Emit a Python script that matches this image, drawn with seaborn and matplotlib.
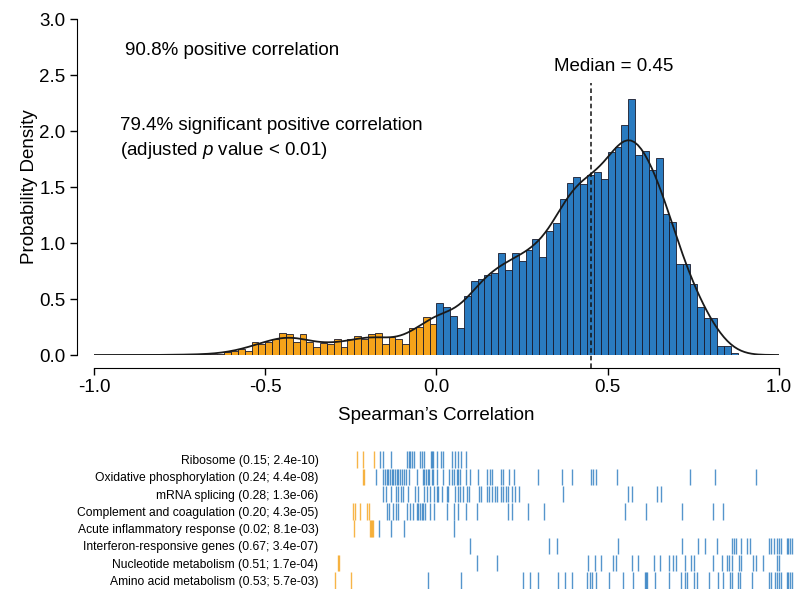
import numpy as np
import pandas as pd
import seaborn as sns
import matplotlib.pyplot as plt

# histogram of Spearman correlations, bin width 0.02, first bin starts at -0.78
neg_density = [0.003, 0.003, 0.003, 0.004, 0.005, 0.008, 0.01, 0.01, 0.024, 0.04,
               0.05, 0.04, 0.12, 0.10, 0.12, 0.14, 0.20, 0.19, 0.12, 0.19,
               0.12, 0.07, 0.11, 0.10, 0.14, 0.07, 0.14, 0.17, 0.14, 0.19,
               0.20, 0.10, 0.16, 0.14, 0.10, 0.24, 0.25, 0.34, 0.28]
pos_density = [0.46, 0.43, 0.35, 0.24, 0.53, 0.66, 0.68, 0.71, 0.73, 0.91,
               0.76, 0.91, 0.84, 0.94, 1.04, 0.875, 1.11, 1.18, 1.39, 1.54,
               1.59, 1.53, 1.61, 1.63, 1.57, 1.81, 1.86, 2.05, 2.29, 1.79,
               1.82, 1.65, 1.76, 1.26, 1.19, 0.81, 0.81, 0.63, 0.43, 0.33,
               0.33, 0.077, 0.077, 0.015]
first_bin = -0.78
bin_width = 0.02
median_r = 0.45
pct_positive = 90.8
pct_significant = 79.4

# gene sets: (enrichment score; p value) and percentile rank of member genes
set_names = ['Ribosome', 'Oxidative phosphorylation', 'mRNA splicing',
             'Complement and coagulation', 'Acute inflammatory response',
             'Interferon-responsive genes', 'Nucleotide metabolism',
             'Amino acid metabolism']
set_scores = ['0.15', '0.24', '0.28', '0.20', '0.02', '0.67', '0.51', '0.53']
set_pvals = ['2.4e-10', '4.4e-08', '1.3e-06', '4.3e-05', '8.1e-03', '3.4e-07',
             '1.7e-04', '5.7e-03']
ribosome = [5.1, 6.4, 8.9, 10.2, 10.7, 12.5, 16.0, 16.4, 16.7, 17.0, 17.6, 18.8,
            19.3, 19.7, 21.1, 21.4, 21.7, 22.4, 23.4, 23.7, 25.6, 26.3, 27.1,
            27.6, 28.7]
oxphos = [6.4, 6.8, 9.3, 10.9, 11.2, 11.6, 11.9, 12.3, 12.7, 13.0, 13.4, 13.8,
          14.1, 14.5, 14.8, 15.3, 15.8, 16.4, 18.2, 19.4, 19.7, 20.1, 20.5,
          20.8, 21.3, 21.7, 22.5, 23.8, 25.1, 25.6, 26.1, 26.7, 27.1, 27.4,
          28.7, 29.6, 31.4, 33.2, 33.9, 34.3, 36.2, 36.8, 38.1, 39.1, 44.3,
          49.4, 51.6, 55.7, 56.2, 56.8, 61.3, 77.0, 82.4, 91.4]
mrna_splicing = [10.9, 11.4, 12.5, 13.5, 14.1, 14.7, 15.2, 16.1, 17.7, 18.4,
                 19.7, 20.2, 21.0, 21.9, 22.4, 22.7, 23.5, 24.6, 24.9, 26.3,
                 26.9, 27.4, 28.1, 28.9, 29.4, 31.6, 31.9, 33.2, 33.8, 34.3,
                 35.0, 35.5, 36.2, 36.7, 37.4, 37.9, 38.6, 39.3, 40.2, 49.6,
                 63.8, 64.5, 70.0, 70.8]
complement = [4.4, 4.8, 5.8, 7.3, 7.8, 11.6, 12.2, 13.0, 13.6, 14.1, 16.0, 16.6,
              17.2, 18.2, 18.4, 18.8, 19.2, 19.4, 19.9, 21.0, 21.9, 24.6, 26.1,
              27.1, 28.7, 31.0, 37.9, 38.6, 42.2, 45.6, 63.1, 67.6, 75.3, 82.1,
              84.3]
acute_inflam = [4.5, 8.0, 8.2, 8.5, 8.7, 9.9, 12.5, 15.3, 26.1]
interferon = [29.5, 46.7, 48.4, 61.6, 75.3, 78.8, 80.3, 82.9, 86.1, 86.7, 87.1,
              88.1, 89.5, 90.0, 94.2, 94.7, 95.2, 95.8, 96.3, 96.7, 98.0, 98.3,
              98.7, 99.2]
nucleotide = [1.0, 1.3, 31.2, 35.4, 55.1, 56.6, 57.8, 60.5, 61.1, 64.5, 65.9,
              69.3, 70.6, 72.5, 73.5, 74.0, 76.0, 77.4, 78.0, 82.1, 84.0, 85.0,
              85.5, 86.1, 87.6, 88.1, 90.8, 91.3, 92.9, 96.0, 96.3]
amino_acid = [0.4, 3.8, 20.6, 27.6, 41.1, 42.5, 44.3, 48.7, 50.2, 51.7, 54.8,
              55.4, 55.9, 56.9, 59.6, 62.7, 64.9, 67.3, 67.6, 67.9, 69.5, 72.5,
              75.1, 76.0, 76.5, 78.0, 78.7, 81.3, 83.2, 84.2, 85.7, 86.2, 87.5,
              87.9, 90.4, 94.2, 94.7, 95.4, 95.9, 96.3, 96.7, 98.0, 98.3, 98.7,
              99.2]
set_ranks = [ribosome, oxphos, mrna_splicing, complement, acute_inflam,
             interferon, nucleotide, amino_acid]

BLUE = '#2a7bc0'
ORANGE = '#f5a31a'
palette = {'neg': ORANGE, 'pos': BLUE}

sns.set_style('ticks')
plt.rcParams['font.family'] = ['Liberation Sans', 'DejaVu Sans']
plt.rcParams['mathtext.fontset'] = 'custom'
plt.rcParams['mathtext.it'] = 'Liberation Sans:italic'
plt.rcParams['mathtext.rm'] = 'Liberation Sans'
for key in ['text.color', 'axes.labelcolor', 'xtick.color', 'ytick.color',
            'axes.edgecolor']:
    plt.rcParams[key] = 'black'

density = neg_density + pos_density
n_bins = len(density)
hist_df = pd.DataFrame({'r': first_bin + bin_width * (np.arange(n_bins) + 0.5),
                        'density': density})
hist_df['sign'] = np.where(hist_df['r'] < 0, 'neg', 'pos')

fig = plt.figure(figsize=(8, 5.95), dpi=100)
ax = fig.add_axes([94 / 800, 240 / 595, 685 / 800, 336 / 595])

sns.histplot(data=hist_df, x='r', weights='density', hue='sign',
             palette=palette, binwidth=bin_width,
             binrange=(first_bin, first_bin + bin_width * n_bins),
             stat='count', multiple='layer', alpha=1, edgecolor='#1a1a2a',
             linewidth=0.6, legend=False, ax=ax)
sns.kdeplot(data=hist_df, x='r', weights='density', bw_method=0.16, cut=20,
            clip=(-1, 1), color='#1a1a1a', linewidth=1.3, ax=ax)
ax.vlines(median_r, -0.12, 2.43, colors='#111111', linewidth=1.1,
          linestyles=(0, (3, 2)), clip_on=False)

ax.text(-0.91, 2.72, f'{pct_positive}% positive correlation', fontsize=13.5,
        va='center')
ax.text(-0.925, 2.05, f'{pct_significant}% significant positive correlation',
        fontsize=13.5, va='center')
ax.text(-0.925, 1.83, '(adjusted $\\it{p}$ value < 0.01)', fontsize=13.5,
        va='center')
ax.text(0.343, 2.58, f'Median = {median_r}', fontsize=13.5, va='center')

ax.set_xlim(-1, 1)
ax.set_ylim(0, 3)
xt = [-1.0, -0.5, 0.0, 0.5, 1.0]
ax.set_xticks(xt, [f'{v:.1f}' for v in xt])
yt = [0.0, 0.5, 1.0, 1.5, 2.0, 2.5, 3.0]
ax.set_yticks(yt, [f'{v:.1f}' for v in yt], rotation=90, va='center')
sns.despine(ax=ax, offset={'left': 12, 'bottom': 9})
ax.spines['left'].set_bounds(0, 3)
ax.spines['bottom'].set_bounds(-1, 1)
ax.tick_params(direction='out', length=5, width=1, labelsize=13.5)
ax.set_xlabel('Spearman\u2019s Correlation', fontsize=13.5, labelpad=8)
ax.set_ylabel('Probability Density', fontsize=13.5, labelpad=1)

# barcode of gene-set members by rank
neg_cut = 100 - pct_positive
rug_rows = []
for i, ranks in enumerate(set_ranks):
    for r in ranks:
        rug_rows.append({'rank': r, 'row': i, 'sign': 'neg' if r < neg_cut else 'pos'})
rug_df = pd.DataFrame(rug_rows)

rax = fig.add_axes([333 / 800, 6 / 595, 463 / 800, 138 / 595])
sns.scatterplot(data=rug_df, x='rank', y='row', hue='sign', palette=palette,
                marker='|', s=140, linewidth=1.0, alpha=0.8, legend=False,
                ax=rax)
rax.set_xlim(0, 100)
rax.set_ylim(7.5, -0.5)
labels = [f'{n} ({s}; {p})' for n, s, p in zip(set_names, set_scores, set_pvals)]
rax.set_yticks(range(len(labels)), labels)
rax.tick_params(left=False, bottom=False, labelbottom=False, labelsize=8.7,
                pad=7)
rax.set_xlabel('')
rax.set_ylabel('')
for s in rax.spines.values():
    s.set_visible(False)

fig.savefig('out.png', dpi=100)
